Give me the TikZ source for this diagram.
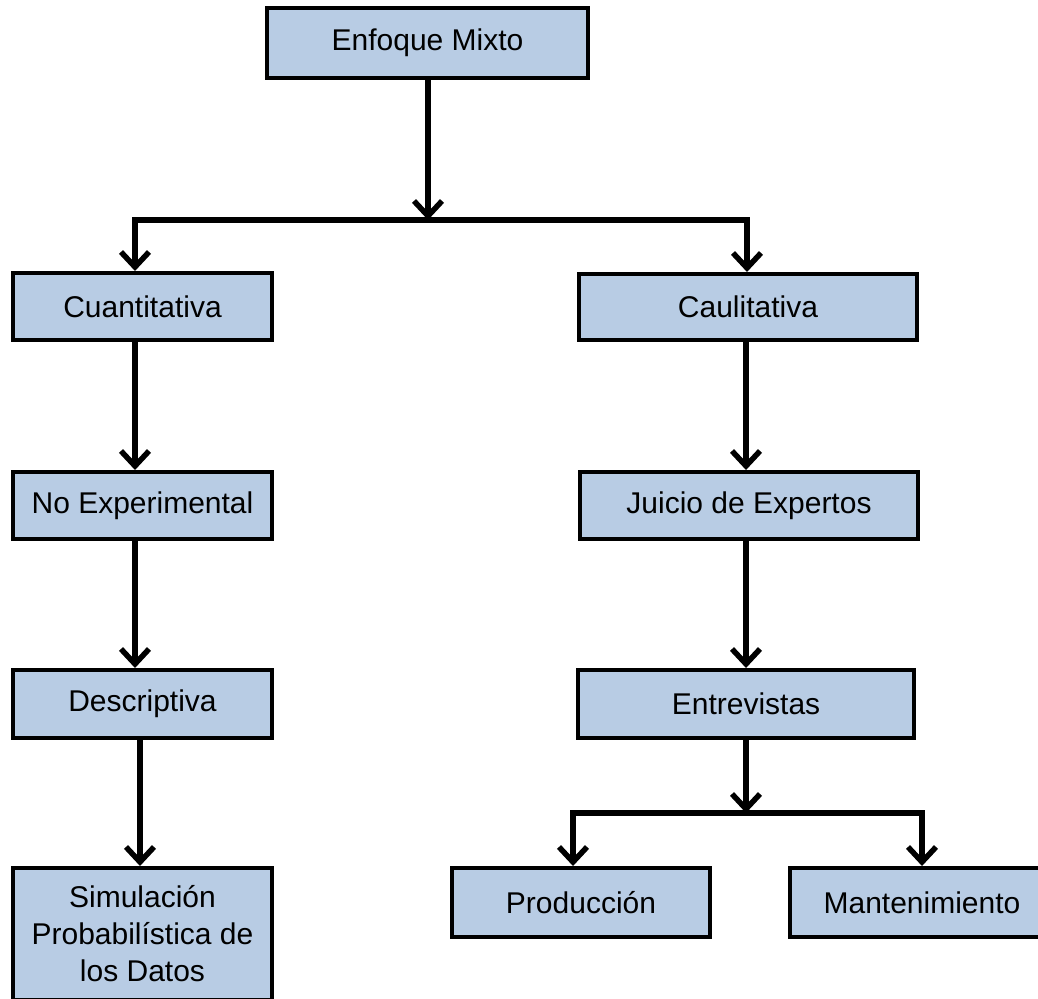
\documentclass[tikz,border=0pt]{standalone}
\usepackage{fontspec}
\setmainfont{Liberation Sans}
\usetikzlibrary{arrows.meta}
\definecolor{boxfill}{RGB}{184,204,228}
\tikzset{
  box/.style={draw=black, fill=boxfill, line width=4pt, inner sep=0pt,
    font=\fontsize{30}{37}\selectfont, align=center},
  arr/.style={line width=5.5pt, line join=miter,
    -{Straight Barb[length=15pt,width=28pt]}},
}
\begin{document}
\begin{tikzpicture}[x=1pt,y=-1pt]
\useasboundingbox (0,0) rectangle (1038,998);
\clip (0,0) rectangle (1038,998);
% nodes
\node[box, minimum width=321pt, minimum height=70pt] (enf) at (427.5,43) {Enfoque Mixto};
\node[box, minimum width=259pt, minimum height=67pt] (cuant) at (142.5,306.5) {Cuantitativa};
\node[box, minimum width=338pt, minimum height=66pt] (caul) at (748,307) {Caulitativa};
\node[box, minimum width=259pt, minimum height=67pt] (noexp) at (142.5,505.5) {No Experimental};
\node[box, minimum width=338pt, minimum height=67pt] (juicio) at (749,505.5) {Juicio de Expertos};
\node[box, minimum width=259pt, minimum height=68pt] (desc) at (142.5,704) {Descriptiva};
\node[box, minimum width=336pt, minimum height=68pt] (entrev) at (746,704) {Entrevistas};
\node[box, minimum width=259pt, minimum height=132pt] (sim) at (142.5,934) {Simulación\\Probabilística de\\los Datos};
\node[box, minimum width=258pt, minimum height=69pt] (prod) at (581,902.5) {Producción};
\node[box, minimum width=264pt, minimum height=69pt] (mant) at (922,902.5) {Mantenimiento};
% junctions
\coordinate (jtop) at (428,220);
\coordinate (jl) at (135,220);
\coordinate (jr) at (747,220);
\coordinate (jl2) at (140,0);
\coordinate (jbot) at (746,813);
\coordinate (jbl) at (573,813);
\coordinate (jbr) at (922,813);
% connectors
\draw[arr] (enf.south -| jtop) -- (jtop);
\draw[arr] (jr) -- (jl) -- (jl |- cuant.north);
\draw[arr] (jl) -- (jr) -- (jr |- caul.north);
\draw[arr] (cuant.south -| jl) -- (noexp.north -| jl);
\draw[arr] (noexp.south -| jl) -- (desc.north -| jl);
\draw[arr] (desc.south -| jl2) -- (sim.north -| jl2);
\draw[arr] (caul.south -| jbot) -- (juicio.north -| jbot);
\draw[arr] (juicio.south -| jbot) -- (entrev.north -| jbot);
\draw[arr] (entrev.south -| jbot) -- (jbot);
\draw[arr] (jbr) -- (jbl) -- (jbl |- prod.north);
\draw[arr] (jbl) -- (jbr) -- (jbr |- mant.north);
\end{tikzpicture}
\end{document}
